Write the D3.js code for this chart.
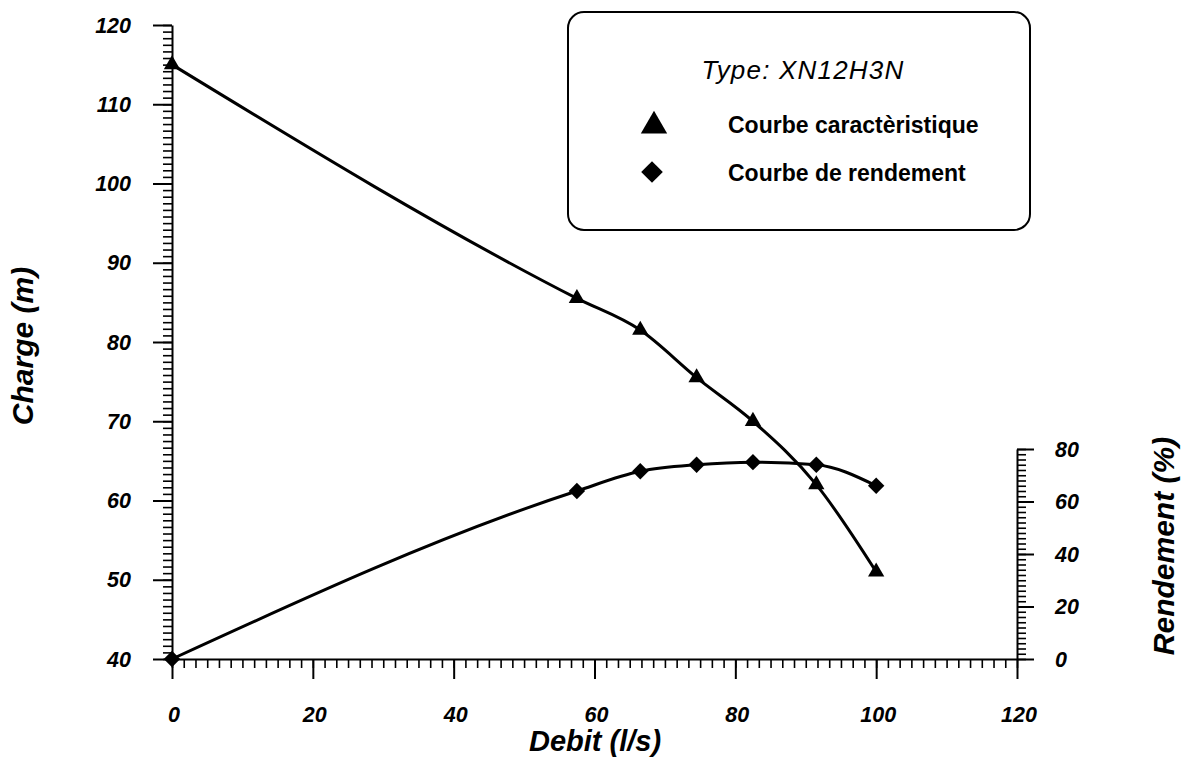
<!DOCTYPE html>
<html>
<head>
<meta charset="utf-8">
<script src="https://cdn.jsdelivr.net/npm/d3@7"></script>
<style>
  html, body { margin: 0; padding: 0; background: #fff; }
  svg { display: block; }
  text { font-family: "Liberation Sans", Arial, sans-serif; fill: #000; }
</style>
</head>
<body>
<svg id="chart" width="1197" height="766"></svg>
<script>
// ---- data ----
const debit = [0, 57.5, 66.5, 74.5, 82.5, 91.5, 100];           // l/s
const charge = [115, 85.5, 81.5, 75.5, 70, 62, 51];              // m
const rendement = [0, 64, 71.5, 74, 75, 74, 66];                 // %
const xTicks = [0, 20, 40, 60, 80, 100, 120];
const yTicks = [40, 50, 60, 70, 80, 90, 100, 110, 120];
const rTicks = [0, 20, 40, 60, 80];
const legendTitle = "Type: XN12H3N";
const legendLabels = ["Courbe caractèristique", "Courbe de rendement"];
const xTitle = "Debit (l/s)";
const yTitle = "Charge (m)";
const rTitle = "Rendement (%)";

const svg = d3.select("#chart");
const x = d3.scaleLinear().domain([0, 120]).range([172, 1017]);
const y = d3.scaleLinear().domain([40, 120]).range([659, 25]);
const yr = d3.scaleLinear().domain([0, 80]).range([659, 449]);

// ---- axes ----
function minorTicks(domain, step) {
  const out = [];
  for (let v = domain[0]; v <= domain[1] + 1e-9; v += step) out.push(+v.toFixed(4));
  return out;
}
const axisStyle = g => {
  g.select(".domain").attr("stroke", "#000").attr("stroke-width", 2);
  g.selectAll(".tick line").attr("stroke", "#000").attr("stroke-width", 1.6);
  g.selectAll("text").remove();
};
const majorStyle = g => {
  g.select(".domain").remove();
  g.selectAll(".tick line").attr("stroke", "#000").attr("stroke-width", 2);
  g.selectAll("text").remove();
};
const tickFont = sel => sel.attr("font-size", 21.5).attr("font-style", "italic").attr("font-weight", "bold");

// x axis minor + major
svg.append("g").attr("transform", `translate(0,${y(40)})`)
  .call(d3.axisBottom(x).tickValues(minorTicks([0, 120], 20 / 12)).tickSize(9).tickSizeOuter(0))
  .call(axisStyle);
svg.append("g").attr("transform", `translate(0,${y(40)})`)
  .call(d3.axisBottom(x).tickValues(xTicks).tickSize(20).tickSizeOuter(0))
  .call(majorStyle);
svg.append("g").selectAll("text").data(xTicks).join("text")
  .attr("x", d => x(d) + 2).attr("y", 722)
  .attr("text-anchor", "middle").call(tickFont)
  .text(d => d);

// left y axis
svg.append("g").attr("transform", `translate(${x(0)},0)`)
  .call(d3.axisLeft(y).tickValues(minorTicks([40, 120], 10 / 12)).tickSize(9).tickSizeOuter(0))
  .call(axisStyle);
svg.append("g").attr("transform", `translate(${x(0)},0)`)
  .call(d3.axisLeft(y).tickValues(yTicks).tickSize(19).tickSizeOuter(0))
  .call(majorStyle);
svg.append("g").selectAll("text").data(yTicks).join("text")
  .attr("x", 131).attr("y", d => y(d) + 7.5)
  .attr("text-anchor", "end").call(tickFont)
  .text(d => d);

// right rendement axis
svg.append("g").attr("transform", `translate(${x(120)},0)`)
  .call(d3.axisRight(yr).tickValues(minorTicks([0, 80], 2)).tickSize(9).tickSizeOuter(0))
  .call(axisStyle);
svg.append("g").attr("transform", `translate(${x(120)},0)`)
  .call(d3.axisRight(yr).tickValues(rTicks).tickSize(17).tickSizeOuter(0))
  .call(majorStyle);
svg.append("g").selectAll("text").data(rTicks).join("text")
  .attr("x", 1055).attr("y", d => yr(d) + 7.5)
  .attr("text-anchor", "start").call(tickFont)
  .text(d => d);

// axis titles
svg.append("text").attr("x", 595).attr("y", 751).attr("text-anchor", "middle")
  .attr("font-size", 29).attr("font-style", "italic").attr("font-weight", "bold").text(xTitle);
svg.append("text").attr("transform", "translate(33,346) rotate(-90)").attr("text-anchor", "middle")
  .attr("font-size", 30).attr("font-style", "italic").attr("font-weight", "bold").text(yTitle);
svg.append("text").attr("transform", "translate(1174,546) rotate(-90)").attr("text-anchor", "middle")
  .attr("font-size", 30).attr("font-style", "italic").attr("font-weight", "bold").text(rTitle);

// ---- curves ----
const chargePts = debit.map((d, i) => [x(d), y(charge[i])]);
const rendPts = debit.map((d, i) => [x(d), yr(rendement[i])]);
const line = d3.line().curve(d3.curveMonotoneX);
svg.append("path").attr("d", line(chargePts)).attr("fill", "none").attr("stroke", "#000").attr("stroke-width", 3);
svg.append("path").attr("d", line(rendPts)).attr("fill", "none").attr("stroke", "#000").attr("stroke-width", 3);

const tri = d3.symbol().type(d3.symbolTriangle).size(115);
const sq = d3.symbol().type(d3.symbolSquare).size(135);
svg.append("g").selectAll("path").data(chargePts).join("path")
  .attr("transform", d => `translate(${d[0]},${d[1]})`).attr("d", tri()).attr("fill", "#000");
svg.append("g").selectAll("path").data(rendPts).join("path")
  .attr("transform", d => `translate(${d[0]},${d[1]}) rotate(45)`).attr("d", sq()).attr("fill", "#000");

// ---- legend ----
const lg = svg.append("g");
lg.append("rect").attr("x", 568).attr("y", 12).attr("width", 462).attr("height", 218)
  .attr("rx", 16).attr("ry", 16).attr("fill", "#fff").attr("stroke", "#000").attr("stroke-width", 2);
lg.append("text").attr("x", 803).attr("y", 79).attr("text-anchor", "middle")
  .attr("font-size", 26).attr("font-style", "italic").attr("letter-spacing", 1.2).text(legendTitle);
lg.append("path").attr("transform", "translate(654,126)").attr("d", d3.symbol().type(d3.symbolTriangle).size(300)()).attr("fill", "#000");
lg.append("path").attr("transform", "translate(652,172) rotate(45)").attr("d", d3.symbol().type(d3.symbolSquare).size(235)()).attr("fill", "#000");
lg.selectAll("text.lab").data(legendLabels).join("text").attr("class", "lab")
  .attr("x", 728).attr("y", (d, i) => 133 + i * 48)
  .attr("font-size", 23).attr("font-weight", "bold").text(d => d);
</script>
</body>
</html>
